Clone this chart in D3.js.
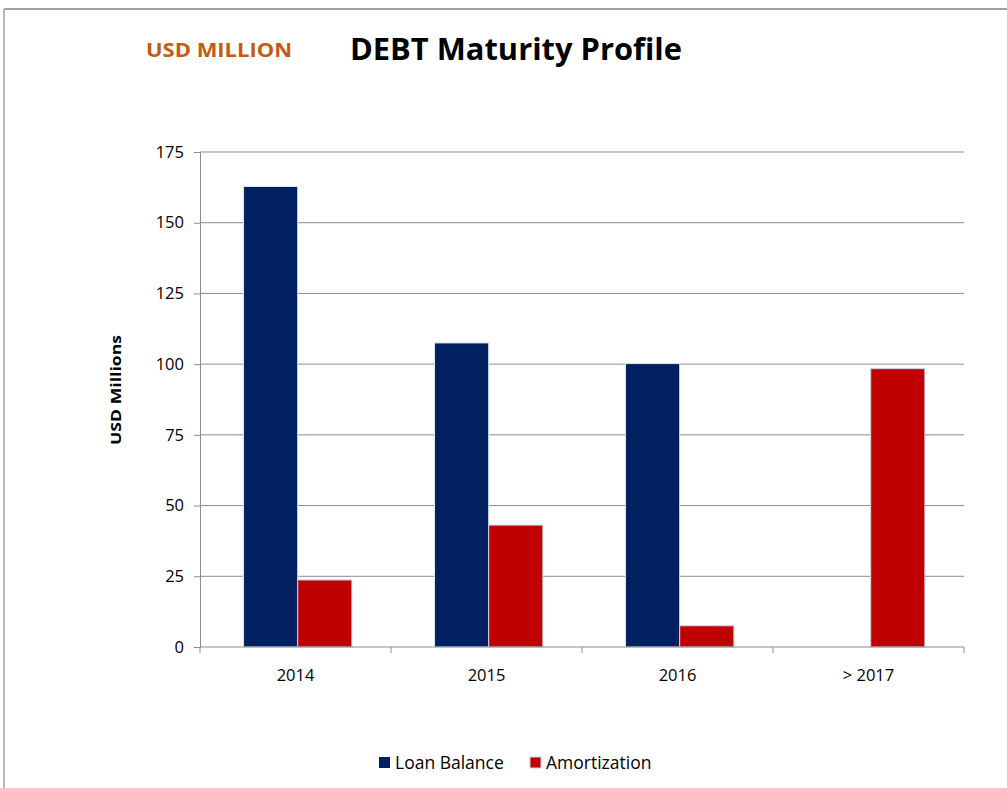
<!DOCTYPE html>
<html>
<head>
<meta charset="utf-8">
<script src="https://cdn.jsdelivr.net/npm/d3@7"></script>
<style>
  body { margin: 0; background: #fff; }
  svg { font-family: "Open Sans", "Noto Sans", sans-serif; }
</style>
</head>
<body>
<div id="chart"></div>
<script>
const categories = ["2014", "2015", "2016", "> 2017"];
const seriesNames = ["Loan Balance", "Amortization"];
const loanBalance = [162.8, 107.5, 100.2, 0];
const amortization = [23.7, 43.1, 7.5, 98.4];
const yTicks = [0, 25, 50, 75, 100, 125, 150, 175];
const colors = ["#002060", "#C00000"];

const width = 1007, height = 788;
const margin = { top: 152, right: 43, bottom: 141, left: 200 };
const innerW = width - margin.left - margin.right;
const innerH = height - margin.top - margin.bottom;

const svg = d3.select("#chart").append("svg")
  .attr("width", width)
  .attr("height", height);

// outer frame (top and left edges visible)
svg.append("line").attr("x1", 4).attr("x2", width).attr("y1", 9).attr("y2", 9)
  .attr("stroke", "#a0a0a0").attr("stroke-width", 2);
svg.append("line").attr("x1", 4).attr("x2", 4).attr("y1", 9).attr("y2", height)
  .attr("stroke", "#a0a0a0").attr("stroke-width", 1.5);

// titles
svg.append("text")
  .attr("x", 146).attr("y", 57)
  .attr("font-size", "20px").attr("font-weight", "bold")
  .attr("fill", "#C55A11")
  .attr("textLength", 146).attr("lengthAdjust", "spacingAndGlyphs")
  .text("USD MILLION");

svg.append("text")
  .attr("x", 350).attr("y", 60)
  .attr("font-size", "30px").attr("font-weight", "bold")
  .attr("fill", "#000")
  .attr("textLength", 332).attr("lengthAdjust", "spacingAndGlyphs")
  .text("DEBT Maturity Profile");

const g = svg.append("g")
  .attr("transform", `translate(${margin.left},${margin.top})`);

const x = d3.scaleBand().domain(categories).range([0, innerW]).padding(0);
const xSeries = d3.scaleBand().domain(seriesNames)
  .range([x.bandwidth() * 0.228, x.bandwidth() * 0.795]).padding(0);
const y = d3.scaleLinear().domain([0, 175]).range([innerH, 0]);

// gridlines
g.append("g")
  .selectAll("line")
  .data(yTicks.filter(d => d > 0))
  .enter().append("line")
  .attr("x1", 0).attr("x2", innerW)
  .attr("y1", d => y(d)).attr("y2", d => y(d))
  .attr("stroke", "#8c8c8c").attr("stroke-width", 1);

// y axis
const yAxis = g.append("g")
  .call(d3.axisLeft(y).tickValues(yTicks).tickSize(6).tickPadding(10));
yAxis.select(".domain").attr("stroke", "#8c8c8c");
yAxis.selectAll(".tick line").attr("stroke", "#8c8c8c");
yAxis.selectAll("text")
  .attr("font-size", "16.5px").attr("fill", "#000")
  .attr("font-family", "'Open Sans', sans-serif");

// bars
const rows = categories.map((c, i) => ({
  category: c,
  values: [
    { series: seriesNames[0], value: loanBalance[i] },
    { series: seriesNames[1], value: amortization[i] }
  ]
}));

const groups = g.selectAll(".cat")
  .data(rows)
  .enter().append("g")
  .attr("class", "cat")
  .attr("transform", d => `translate(${x(d.category)},0)`);

groups.selectAll("rect")
  .data(d => d.values.filter(v => v.value > 0))
  .enter().append("rect")
  .attr("x", d => xSeries(d.series))
  .attr("y", d => y(d.value))
  .attr("width", xSeries.bandwidth())
  .attr("height", d => innerH - y(d.value))
  .attr("fill", d => colors[seriesNames.indexOf(d.series)])
  .attr("stroke", d => d.series === "Amortization" ? "#c8d4ea" : "#dfe4ee")
  .attr("stroke-width", 1);

// x axis
const xTickPos = d3.range(categories.length + 1).map(i => i * x.bandwidth());
const xAxisG = g.append("g").attr("transform", `translate(0,${innerH})`);
xAxisG.append("line")
  .attr("x1", 0).attr("x2", innerW).attr("y1", 0).attr("y2", 0)
  .attr("stroke", "#8c8c8c");
xAxisG.selectAll(".xtick")
  .data(xTickPos)
  .enter().append("line")
  .attr("x1", d => d).attr("x2", d => d)
  .attr("y1", 0).attr("y2", 6)
  .attr("stroke", "#8c8c8c");
xAxisG.selectAll(".xlabel")
  .data(categories)
  .enter().append("text")
  .attr("x", d => x(d) + x.bandwidth() / 2)
  .attr("y", 34)
  .attr("text-anchor", "middle")
  .attr("font-size", "16.5px")
  .attr("fill", "#000")
  .text(d => d);

// y axis title
svg.append("text")
  .attr("transform", "rotate(-90)")
  .attr("x", -390).attr("y", 121)
  .attr("text-anchor", "middle")
  .attr("font-size", "15px").attr("font-weight", "bold")
  .attr("textLength", 110).attr("lengthAdjust", "spacingAndGlyphs")
  .text("USD Millions");

// legend
const legendItems = [
  { name: seriesNames[0], color: colors[0], x: 379, tx: 395 },
  { name: seriesNames[1], color: colors[1], x: 530, tx: 546 }
];
const legend = svg.append("g");
legend.selectAll("rect")
  .data(legendItems)
  .enter().append("rect")
  .attr("x", d => d.x).attr("y", 757)
  .attr("width", 11).attr("height", 11)
  .attr("fill", d => d.color)
  .attr("stroke", (d, i) => i === 1 ? "#c8d4ea" : "none");
legend.selectAll("text")
  .data(legendItems)
  .enter().append("text")
  .attr("x", d => d.tx).attr("y", 769)
  .attr("font-size", "17.5px").attr("fill", "#000")
  .text(d => d.name);
</script>
</body>
</html>
